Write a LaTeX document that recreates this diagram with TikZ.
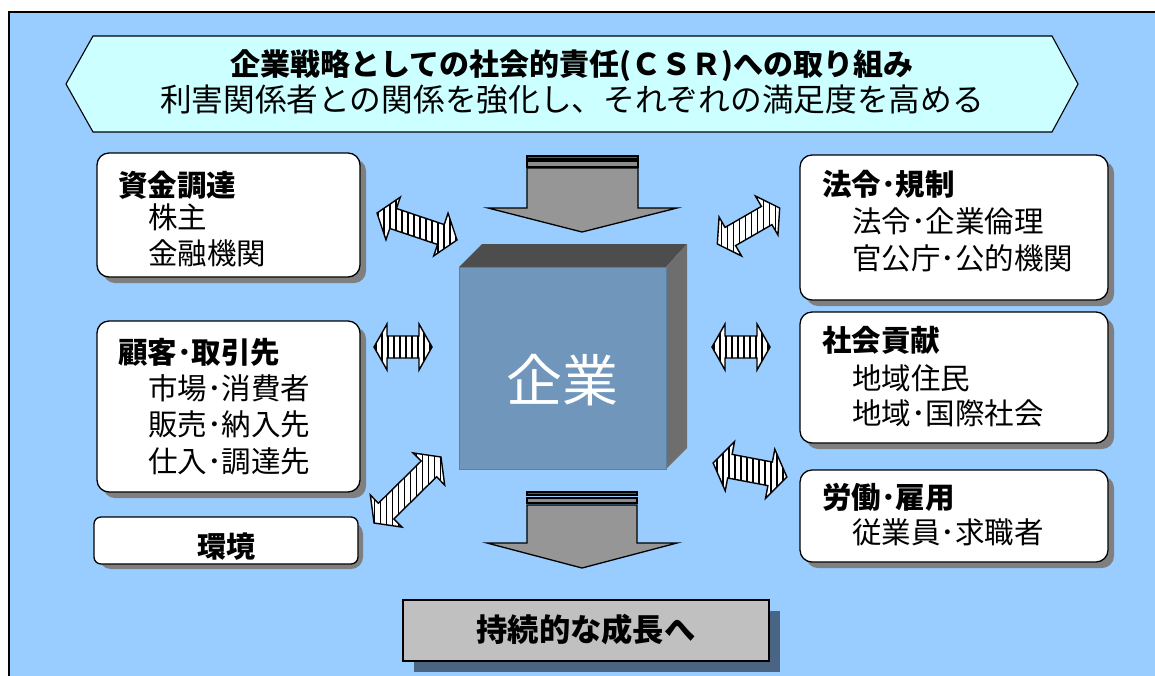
\documentclass[tikz,border=0pt]{standalone}
\usepackage{fontspec}
\setmainfont{Noto Sans CJK JP}
\definecolor{bgblue}{HTML}{99CCFF}
\definecolor{bannercyan}{HTML}{CCFFFF}
\definecolor{cubefront}{HTML}{7096BC}
\definecolor{cubeedge}{HTML}{5A7FA5}
\definecolor{cubetop}{HTML}{4D4D4D}
\definecolor{cuberight}{HTML}{6E6E6E}
\definecolor{arrgray}{HTML}{969696}
\definecolor{bardark}{HTML}{5A5A5A}
\definecolor{barmid}{HTML}{8C8C8C}
\definecolor{shadowgray}{HTML}{7F7F7F}
\definecolor{boxgray}{HTML}{C0C0C0}
\definecolor{slateshadow}{HTML}{4A6584}
\newcommand\dblarr[7]{%
  \pgfmathsetmacro\hl{#4/2}%
  \pgfmathsetmacro\bx{#4/2-#7}%
  \begin{scope}[shift={(#1,#2)},rotate=#3]
    \fill[white] (-\hl,0) -- (-\bx,#5) -- (-\bx,#6) -- (\bx,#6) -- (\bx,#5) -- (\hl,0) -- (\bx,-#5) -- (\bx,-#6) -- (-\bx,-#6) -- (-\bx,-#5) -- cycle;
    \begin{scope}
      \clip (-\hl,0) -- (-\bx,#5) -- (-\bx,#6) -- (\bx,#6) -- (\bx,#5) -- (\hl,0) -- (\bx,-#5) -- (\bx,-#6) -- (-\bx,-#6) -- (-\bx,-#5) -- cycle;
      \begin{scope}[rotate=-#3]
        \foreach \i in {-63,-57,...,63} \draw[line width=1.2] (\i,-70) -- (\i,70);
      \end{scope}
    \end{scope}
    \draw[line width=1.4,line join=miter] (-\hl,0) -- (-\bx,#5) -- (-\bx,#6) -- (\bx,#6) -- (\bx,#5) -- (\hl,0) -- (\bx,-#5) -- (\bx,-#6) -- (-\bx,-#6) -- (-\bx,-#5) -- cycle;
  \end{scope}}
\tikzset{
  sbox/.style={draw=black,line width=1.3,fill=white,rounded corners=12},
  sshadow/.style={fill=shadowgray,rounded corners=12},
  boxtitle/.style={anchor=west,inner sep=0,font=\bfseries\fontsize{29.5}{31}\selectfont},
  boxline/.style={anchor=west,inner sep=0,font=\fontsize{29.5}{31}\selectfont},
  darr/.style={draw=black,line width=1.3,fill=arrgray,line join=miter},
}
\begin{document}
\begin{tikzpicture}[x=1pt,y=-1pt]
\useasboundingbox (0,0) rectangle (1155,675);
\fill[white] (0,0) rectangle (1155,675);
\draw[fill=bgblue,line width=1.3] (9,12) rectangle (1175,695);
% banner
\draw[fill=bannercyan,line width=1.1] (66,84) -- (93,36) -- (1052,36) -- (1078,84) -- (1052,132) -- (93,132) -- cycle;
\node[inner sep=0,font=\bfseries\fontsize{30}{32}\selectfont] (t1) at (572,66) {企業戦略としての社会的責任(ＣＳＲ)への取り組み};
\node[inner sep=0,font=\fontsize{31.7}{33}\selectfont] (t2) at (572,100) {利害関係者との関係を強化し、それぞれの満足度を高める};
% left boxes
\fill[sshadow] (103,159) rectangle (366,283);
\draw[sbox] (97,153) rectangle (360,277);
\node[boxtitle] (l1a) at (118,185) {資金調達};
\node[boxline] (l1b) at (148,217) {株主};
\node[boxline] (l1c) at (148,253) {金融機関};
\fill[sshadow] (103,327) rectangle (366,498);
\draw[sbox] (97,321) rectangle (360,492);
\node[boxtitle] (l2a) at (118,352) {顧客･取引先};
\node[boxline] (l2b) at (148,388) {市場･消費者};
\node[boxline] (l2c) at (148,424) {販売･納入先};
\node[boxline] (l2d) at (148,461) {仕入･調達先};
\fill[sshadow] (99,522) rectangle (363,569);
\draw[sbox,rounded corners=7] (94,517) rectangle (358,564);
\node[inner sep=0,font=\bfseries\fontsize{29}{30}\selectfont] (l3) at (226,547) {環境};
% right boxes
\fill[sshadow] (806,161) rectangle (1114,306);
\draw[sbox] (800,155) rectangle (1108,300);
\node[boxtitle] (r1a) at (822,184) {法令･規制};
\node[boxline] (r1b) at (852,221) {法令･企業倫理};
\node[boxline] (r1c) at (852,258) {官公庁･公的機関};
\fill[sshadow] (806,318) rectangle (1114,449);
\draw[sbox] (800,312) rectangle (1108,443);
\node[boxtitle] (r2a) at (822,340) {社会貢献};
\node[boxline] (r2b) at (852,378) {地域住民};
\node[boxline] (r2c) at (852,413) {地域･国際社会};
\fill[sshadow] (806,476) rectangle (1114,568);
\draw[sbox] (800,470) rectangle (1108,562);
\node[boxtitle] (r3a) at (822,497) {労働･雇用};
\node[boxline] (r3b) at (852,532) {従業員･求職者};
% cube
\fill[cubetop] (459,267) -- (482,244) -- (687,244) -- (666,267) -- cycle;
\fill[cuberight] (666,267) -- (687,244) -- (687,448) -- (666,469) -- cycle;
\draw[fill=cubefront,draw=cubeedge,line width=1] (459,267) rectangle (666,469);
\node[inner sep=0,text=white,font=\fontsize{56}{58}\selectfont] (kigyo) at (562,380) {企業};
% top down arrow
\draw[darr,fill=bardark] (527,156) rectangle (638,159);
\draw[darr,fill=barmid] (527,161) rectangle (638,167);
\draw[darr] (527,168) -- (638,168) -- (638,208) -- (677,208) -- (582,232) -- (488,208) -- (527,208) -- cycle;
% bottom down arrow
\draw[darr,fill=bardark] (527,492) rectangle (637,495);
\draw[darr,fill=barmid] (527,498) rectangle (637,503);
\draw[darr] (527,505) -- (637,505) -- (637,543) -- (677,543) -- (582,568) -- (487,543) -- (527,543) -- cycle;
% bottom box
\fill[slateshadow] (414,611) rectangle (780,672);
\draw[fill=boxgray,line width=1.3] (403,600) rectangle (769,661);
\node[inner sep=0,font=\bfseries\fontsize{31.3}{33}\selectfont] (grow) at (586,630) {持続的な成長へ};
% double arrows
\dblarr{417}{226.5}{-18.6}{84.4}{22.5}{10.5}{17}
\dblarr{748.5}{226}{30}{72}{22.5}{10.5}{15}
\dblarr{403}{347}{0}{58}{23}{11}{13}
\dblarr{741}{347}{0}{58}{23}{11}{13}
\dblarr{407.5}{490}{44.6}{94}{22.5}{11}{17}
\dblarr{750}{470}{-10.7}{75}{25}{12}{17}
\end{tikzpicture}
\end{document}
